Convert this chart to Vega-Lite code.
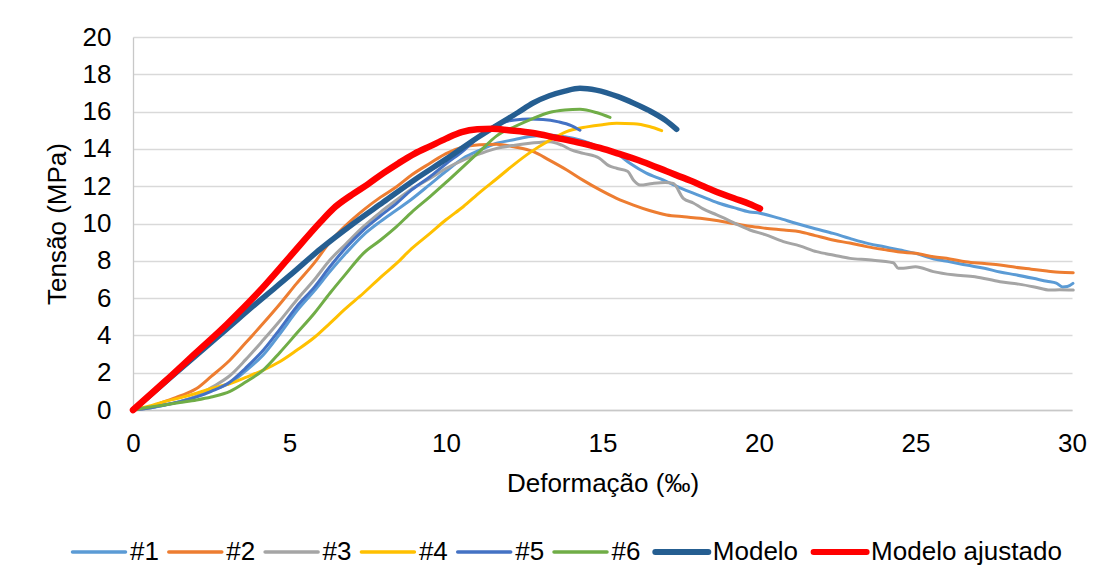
{
  "$schema": "https://vega.github.io/schema/vega-lite/v6.json",
  "width": 939,
  "height": 373,
  "autosize": {"type": "none"},
  "padding": {"left": 133, "top": 37, "right": 39, "bottom": 170},
  "background": "white",
  "config": {
    "view": {"stroke": null},
    "font": "Liberation Sans",
    "axis": {
      "labelFont": "Liberation Sans",
      "titleFont": "Liberation Sans",
      "labelFontSize": 26,
      "titleFontSize": 26,
      "labelColor": "#000000",
      "titleColor": "#000000",
      "titleFontWeight": "normal",
      "ticks": false,
      "tickSize": 0,
      "labelFlush": false,
      "labelOverlap": false,
      "domainColor": "#C8C8C8",
      "domainWidth": 1.3,
      "gridColor": "#D9D9D9",
      "gridWidth": 1.3
    },
    "legend": {
      "labelFont": "Liberation Sans",
      "labelFontSize": 26,
      "labelColor": "#000000",
      "labelLimit": 400
    }
  },
  "datasets": {
    "curvas": [
      {"serie": "#1", "def": 0, "tensao": 0},
      {"serie": "#1", "def": 0.5, "tensao": 0.1},
      {"serie": "#1", "def": 1, "tensao": 0.25},
      {"serie": "#1", "def": 1.5, "tensao": 0.45},
      {"serie": "#1", "def": 2, "tensao": 0.7},
      {"serie": "#1", "def": 2.5, "tensao": 1.05},
      {"serie": "#1", "def": 3.1, "tensao": 1.45},
      {"serie": "#1", "def": 3.6, "tensao": 2.1},
      {"serie": "#1", "def": 4.16, "tensao": 2.95},
      {"serie": "#1", "def": 4.7, "tensao": 4.1},
      {"serie": "#1", "def": 5.23, "tensao": 5.3},
      {"serie": "#1", "def": 5.8, "tensao": 6.4},
      {"serie": "#1", "def": 6.29, "tensao": 7.42},
      {"serie": "#1", "def": 6.8, "tensao": 8.4},
      {"serie": "#1", "def": 7.36, "tensao": 9.38},
      {"serie": "#1", "def": 7.9, "tensao": 10.1},
      {"serie": "#1", "def": 8.42, "tensao": 10.72},
      {"serie": "#1", "def": 8.9, "tensao": 11.3},
      {"serie": "#1", "def": 9.49, "tensao": 12.1},
      {"serie": "#1", "def": 10, "tensao": 12.8},
      {"serie": "#1", "def": 10.55, "tensao": 13.5},
      {"serie": "#1", "def": 11.1, "tensao": 13.95},
      {"serie": "#1", "def": 11.62, "tensao": 14.3},
      {"serie": "#1", "def": 12.2, "tensao": 14.5},
      {"serie": "#1", "def": 12.68, "tensao": 14.66},
      {"serie": "#1", "def": 13.3, "tensao": 14.75},
      {"serie": "#1", "def": 13.8, "tensao": 14.65},
      {"serie": "#1", "def": 14.28, "tensao": 14.48},
      {"serie": "#1", "def": 14.9, "tensao": 14.1},
      {"serie": "#1", "def": 15.45, "tensao": 13.76},
      {"serie": "#1", "def": 15.9, "tensao": 13.2},
      {"serie": "#1", "def": 16.4, "tensao": 12.7},
      {"serie": "#1", "def": 16.95, "tensao": 12.33},
      {"serie": "#1", "def": 17.5, "tensao": 11.9},
      {"serie": "#1", "def": 18.1, "tensao": 11.5},
      {"serie": "#1", "def": 18.7, "tensao": 11.1},
      {"serie": "#1", "def": 19.2, "tensao": 10.85},
      {"serie": "#1", "def": 19.7, "tensao": 10.62},
      {"serie": "#1", "def": 20.03, "tensao": 10.55},
      {"serie": "#1", "def": 20.6, "tensao": 10.3},
      {"serie": "#1", "def": 21.2, "tensao": 10.0},
      {"serie": "#1", "def": 21.8, "tensao": 9.72},
      {"serie": "#1", "def": 22.37, "tensao": 9.47},
      {"serie": "#1", "def": 22.9, "tensao": 9.2},
      {"serie": "#1", "def": 23.5, "tensao": 8.92},
      {"serie": "#1", "def": 24.0, "tensao": 8.75},
      {"serie": "#1", "def": 24.5, "tensao": 8.58},
      {"serie": "#1", "def": 25.0, "tensao": 8.4},
      {"serie": "#1", "def": 25.6, "tensao": 8.1},
      {"serie": "#1", "def": 26.1, "tensao": 7.95},
      {"serie": "#1", "def": 26.63, "tensao": 7.77},
      {"serie": "#1", "def": 27.2, "tensao": 7.6},
      {"serie": "#1", "def": 27.7, "tensao": 7.4},
      {"serie": "#1", "def": 28.2, "tensao": 7.25},
      {"serie": "#1", "def": 28.76, "tensao": 7.06},
      {"serie": "#1", "def": 29.2, "tensao": 6.9},
      {"serie": "#1", "def": 29.5, "tensao": 6.8},
      {"serie": "#1", "def": 29.7, "tensao": 6.6},
      {"serie": "#1", "def": 29.85, "tensao": 6.62},
      {"serie": "#1", "def": 30.03, "tensao": 6.79},

      {"serie": "#2", "def": 0, "tensao": 0},
      {"serie": "#2", "def": 0.5, "tensao": 0.15},
      {"serie": "#2", "def": 1, "tensao": 0.45},
      {"serie": "#2", "def": 1.5, "tensao": 0.75},
      {"serie": "#2", "def": 2.03, "tensao": 1.15},
      {"serie": "#2", "def": 2.5, "tensao": 1.8},
      {"serie": "#2", "def": 3.1, "tensao": 2.68},
      {"serie": "#2", "def": 3.6, "tensao": 3.6},
      {"serie": "#2", "def": 4.16, "tensao": 4.65},
      {"serie": "#2", "def": 4.7, "tensao": 5.7},
      {"serie": "#2", "def": 5.23, "tensao": 6.79},
      {"serie": "#2", "def": 5.8, "tensao": 7.9},
      {"serie": "#2", "def": 6.29, "tensao": 9.0},
      {"serie": "#2", "def": 6.8, "tensao": 9.9},
      {"serie": "#2", "def": 7.36, "tensao": 10.72},
      {"serie": "#2", "def": 7.9, "tensao": 11.4},
      {"serie": "#2", "def": 8.42, "tensao": 11.97},
      {"serie": "#2", "def": 8.9, "tensao": 12.6},
      {"serie": "#2", "def": 9.49, "tensao": 13.23},
      {"serie": "#2", "def": 10, "tensao": 13.75},
      {"serie": "#2", "def": 10.55, "tensao": 14.1},
      {"serie": "#2", "def": 11.1, "tensao": 14.22},
      {"serie": "#2", "def": 11.6, "tensao": 14.25},
      {"serie": "#2", "def": 12.2, "tensao": 14.1},
      {"serie": "#2", "def": 12.79, "tensao": 13.85},
      {"serie": "#2", "def": 13.3, "tensao": 13.4},
      {"serie": "#2", "def": 13.86, "tensao": 12.87},
      {"serie": "#2", "def": 14.4, "tensao": 12.3},
      {"serie": "#2", "def": 14.92, "tensao": 11.8},
      {"serie": "#2", "def": 15.45, "tensao": 11.35},
      {"serie": "#2", "def": 15.99, "tensao": 10.99},
      {"serie": "#2", "def": 16.5, "tensao": 10.7},
      {"serie": "#2", "def": 17.05, "tensao": 10.46},
      {"serie": "#2", "def": 17.6, "tensao": 10.36},
      {"serie": "#2", "def": 18.12, "tensao": 10.28},
      {"serie": "#2", "def": 18.7, "tensao": 10.15},
      {"serie": "#2", "def": 19.19, "tensao": 10.0},
      {"serie": "#2", "def": 19.7, "tensao": 9.85},
      {"serie": "#2", "def": 20.2, "tensao": 9.75},
      {"serie": "#2", "def": 20.8, "tensao": 9.65},
      {"serie": "#2", "def": 21.31, "tensao": 9.56},
      {"serie": "#2", "def": 21.8, "tensao": 9.35},
      {"serie": "#2", "def": 22.4, "tensao": 9.1},
      {"serie": "#2", "def": 22.9, "tensao": 8.95},
      {"serie": "#2", "def": 23.44, "tensao": 8.76},
      {"serie": "#2", "def": 24.0, "tensao": 8.6},
      {"serie": "#2", "def": 24.5, "tensao": 8.47},
      {"serie": "#2", "def": 25.0, "tensao": 8.4},
      {"serie": "#2", "def": 25.57, "tensao": 8.22},
      {"serie": "#2", "def": 26.1, "tensao": 8.1},
      {"serie": "#2", "def": 26.6, "tensao": 7.95},
      {"serie": "#2", "def": 27.2, "tensao": 7.85},
      {"serie": "#2", "def": 27.7, "tensao": 7.77},
      {"serie": "#2", "def": 28.2, "tensao": 7.65},
      {"serie": "#2", "def": 28.7, "tensao": 7.55},
      {"serie": "#2", "def": 29.2, "tensao": 7.45},
      {"serie": "#2", "def": 29.6, "tensao": 7.38},
      {"serie": "#2", "def": 30.04, "tensao": 7.36},

      {"serie": "#3", "def": 0, "tensao": 0},
      {"serie": "#3", "def": 0.5, "tensao": 0.1},
      {"serie": "#3", "def": 1, "tensao": 0.27},
      {"serie": "#3", "def": 1.5, "tensao": 0.45},
      {"serie": "#3", "def": 2.03, "tensao": 0.75},
      {"serie": "#3", "def": 2.5, "tensao": 1.2},
      {"serie": "#3", "def": 3.1, "tensao": 1.85},
      {"serie": "#3", "def": 3.6, "tensao": 2.7},
      {"serie": "#3", "def": 4.16, "tensao": 3.75},
      {"serie": "#3", "def": 4.7, "tensao": 4.8},
      {"serie": "#3", "def": 5.23, "tensao": 5.9},
      {"serie": "#3", "def": 5.8, "tensao": 7.0},
      {"serie": "#3", "def": 6.29, "tensao": 8.04},
      {"serie": "#3", "def": 6.8, "tensao": 8.9},
      {"serie": "#3", "def": 7.36, "tensao": 9.83},
      {"serie": "#3", "def": 7.9, "tensao": 10.6},
      {"serie": "#3", "def": 8.42, "tensao": 11.26},
      {"serie": "#3", "def": 8.9, "tensao": 11.85},
      {"serie": "#3", "def": 9.49, "tensao": 12.42},
      {"serie": "#3", "def": 10, "tensao": 12.95},
      {"serie": "#3", "def": 10.55, "tensao": 13.4},
      {"serie": "#3", "def": 11.1, "tensao": 13.75},
      {"serie": "#3", "def": 11.62, "tensao": 14.03},
      {"serie": "#3", "def": 12.2, "tensao": 14.2},
      {"serie": "#3", "def": 12.68, "tensao": 14.3},
      {"serie": "#3", "def": 13.32, "tensao": 14.39},
      {"serie": "#3", "def": 13.7, "tensao": 14.2},
      {"serie": "#3", "def": 14.0, "tensao": 13.95},
      {"serie": "#3", "def": 14.39, "tensao": 13.76},
      {"serie": "#3", "def": 14.9, "tensao": 13.5},
      {"serie": "#3", "def": 15.2, "tensao": 13.1},
      {"serie": "#3", "def": 15.45, "tensao": 12.96},
      {"serie": "#3", "def": 15.8, "tensao": 12.8},
      {"serie": "#3", "def": 16.0, "tensao": 12.3},
      {"serie": "#3", "def": 16.2, "tensao": 12.06},
      {"serie": "#3", "def": 16.6, "tensao": 12.15},
      {"serie": "#3", "def": 17.0, "tensao": 12.2},
      {"serie": "#3", "def": 17.26, "tensao": 12.15},
      {"serie": "#3", "def": 17.58, "tensao": 11.35},
      {"serie": "#3", "def": 17.9, "tensao": 11.1},
      {"serie": "#3", "def": 18.2, "tensao": 10.8},
      {"serie": "#3", "def": 18.65, "tensao": 10.46},
      {"serie": "#3", "def": 19.0, "tensao": 10.2},
      {"serie": "#3", "def": 19.3, "tensao": 9.95},
      {"serie": "#3", "def": 19.71, "tensao": 9.65},
      {"serie": "#3", "def": 20.2, "tensao": 9.4},
      {"serie": "#3", "def": 20.78, "tensao": 9.03},
      {"serie": "#3", "def": 21.3, "tensao": 8.8},
      {"serie": "#3", "def": 21.84, "tensao": 8.49},
      {"serie": "#3", "def": 22.4, "tensao": 8.3},
      {"serie": "#3", "def": 22.91, "tensao": 8.13},
      {"serie": "#3", "def": 23.5, "tensao": 8.05},
      {"serie": "#3", "def": 24.29, "tensao": 7.9},
      {"serie": "#3", "def": 24.45, "tensao": 7.6},
      {"serie": "#3", "def": 24.61, "tensao": 7.6},
      {"serie": "#3", "def": 25.0, "tensao": 7.68},
      {"serie": "#3", "def": 25.57, "tensao": 7.42},
      {"serie": "#3", "def": 26.2, "tensao": 7.25},
      {"serie": "#3", "def": 26.9, "tensao": 7.15},
      {"serie": "#3", "def": 27.7, "tensao": 6.88},
      {"serie": "#3", "def": 28.3, "tensao": 6.75},
      {"serie": "#3", "def": 28.8, "tensao": 6.6},
      {"serie": "#3", "def": 29.3, "tensao": 6.43},
      {"serie": "#3", "def": 29.6, "tensao": 6.45},
      {"serie": "#3", "def": 30.04, "tensao": 6.43},

      {"serie": "#4", "def": 0, "tensao": 0},
      {"serie": "#4", "def": 0.5, "tensao": 0.2},
      {"serie": "#4", "def": 1, "tensao": 0.45},
      {"serie": "#4", "def": 1.5, "tensao": 0.65},
      {"serie": "#4", "def": 2.03, "tensao": 0.9},
      {"serie": "#4", "def": 2.5, "tensao": 1.15},
      {"serie": "#4", "def": 3.1, "tensao": 1.42},
      {"serie": "#4", "def": 3.6, "tensao": 1.75},
      {"serie": "#4", "def": 4.16, "tensao": 2.14},
      {"serie": "#4", "def": 4.7, "tensao": 2.6},
      {"serie": "#4", "def": 5.23, "tensao": 3.2},
      {"serie": "#4", "def": 5.8, "tensao": 3.9},
      {"serie": "#4", "def": 6.29, "tensao": 4.65},
      {"serie": "#4", "def": 6.8, "tensao": 5.45},
      {"serie": "#4", "def": 7.36, "tensao": 6.26},
      {"serie": "#4", "def": 7.9, "tensao": 7.1},
      {"serie": "#4", "def": 8.42, "tensao": 7.86},
      {"serie": "#4", "def": 8.9, "tensao": 8.65},
      {"serie": "#4", "def": 9.49, "tensao": 9.47},
      {"serie": "#4", "def": 10, "tensao": 10.2},
      {"serie": "#4", "def": 10.55, "tensao": 10.9},
      {"serie": "#4", "def": 11.1, "tensao": 11.7},
      {"serie": "#4", "def": 11.62, "tensao": 12.4},
      {"serie": "#4", "def": 12.2, "tensao": 13.2},
      {"serie": "#4", "def": 12.68, "tensao": 13.8},
      {"serie": "#4", "def": 13.3, "tensao": 14.45},
      {"serie": "#4", "def": 13.85, "tensao": 14.93},
      {"serie": "#4", "def": 14.5, "tensao": 15.18},
      {"serie": "#4", "def": 15.0, "tensao": 15.3},
      {"serie": "#4", "def": 15.45, "tensao": 15.37},
      {"serie": "#4", "def": 16.0, "tensao": 15.35},
      {"serie": "#4", "def": 16.5, "tensao": 15.2},
      {"serie": "#4", "def": 16.89, "tensao": 14.98},

      {"serie": "#5", "def": 0, "tensao": 0},
      {"serie": "#5", "def": 0.5, "tensao": 0.1},
      {"serie": "#5", "def": 1, "tensao": 0.27},
      {"serie": "#5", "def": 1.5, "tensao": 0.45},
      {"serie": "#5", "def": 2.03, "tensao": 0.7},
      {"serie": "#5", "def": 2.5, "tensao": 1.0},
      {"serie": "#5", "def": 3.1, "tensao": 1.5},
      {"serie": "#5", "def": 3.6, "tensao": 2.25},
      {"serie": "#5", "def": 4.16, "tensao": 3.2},
      {"serie": "#5", "def": 4.7, "tensao": 4.35},
      {"serie": "#5", "def": 5.23, "tensao": 5.54},
      {"serie": "#5", "def": 5.8, "tensao": 6.6},
      {"serie": "#5", "def": 6.29, "tensao": 7.68},
      {"serie": "#5", "def": 6.8, "tensao": 8.7},
      {"serie": "#5", "def": 7.36, "tensao": 9.65},
      {"serie": "#5", "def": 7.9, "tensao": 10.4},
      {"serie": "#5", "def": 8.42, "tensao": 11.08},
      {"serie": "#5", "def": 8.9, "tensao": 11.8},
      {"serie": "#5", "def": 9.49, "tensao": 12.51},
      {"serie": "#5", "def": 10, "tensao": 13.2},
      {"serie": "#5", "def": 10.55, "tensao": 13.9},
      {"serie": "#5", "def": 11.1, "tensao": 14.7},
      {"serie": "#5", "def": 11.62, "tensao": 15.3},
      {"serie": "#5", "def": 12.2, "tensao": 15.55},
      {"serie": "#5", "def": 12.68, "tensao": 15.6},
      {"serie": "#5", "def": 13.1, "tensao": 15.58},
      {"serie": "#5", "def": 13.6, "tensao": 15.45},
      {"serie": "#5", "def": 14.0, "tensao": 15.25},
      {"serie": "#5", "def": 14.28, "tensao": 15.0},

      {"serie": "#6", "def": 0, "tensao": 0},
      {"serie": "#6", "def": 0.5, "tensao": 0.15},
      {"serie": "#6", "def": 1, "tensao": 0.27},
      {"serie": "#6", "def": 1.5, "tensao": 0.4},
      {"serie": "#6", "def": 2.03, "tensao": 0.54},
      {"serie": "#6", "def": 2.5, "tensao": 0.7},
      {"serie": "#6", "def": 3.1, "tensao": 1.0},
      {"serie": "#6", "def": 3.6, "tensao": 1.5},
      {"serie": "#6", "def": 4.16, "tensao": 2.14},
      {"serie": "#6", "def": 4.7, "tensao": 3.1},
      {"serie": "#6", "def": 5.23, "tensao": 4.11},
      {"serie": "#6", "def": 5.8, "tensao": 5.2},
      {"serie": "#6", "def": 6.29, "tensao": 6.26},
      {"serie": "#6", "def": 6.8, "tensao": 7.3},
      {"serie": "#6", "def": 7.36, "tensao": 8.4},
      {"serie": "#6", "def": 7.9, "tensao": 9.1},
      {"serie": "#6", "def": 8.42, "tensao": 9.83},
      {"serie": "#6", "def": 8.9, "tensao": 10.6},
      {"serie": "#6", "def": 9.49, "tensao": 11.44},
      {"serie": "#6", "def": 10, "tensao": 12.2},
      {"serie": "#6", "def": 10.55, "tensao": 13.05},
      {"serie": "#6", "def": 11.1, "tensao": 13.9},
      {"serie": "#6", "def": 11.62, "tensao": 14.7},
      {"serie": "#6", "def": 12.2, "tensao": 15.2},
      {"serie": "#6", "def": 12.79, "tensao": 15.64},
      {"serie": "#6", "def": 13.3, "tensao": 15.95},
      {"serie": "#6", "def": 13.8, "tensao": 16.08},
      {"serie": "#6", "def": 14.28, "tensao": 16.12},
      {"serie": "#6", "def": 14.8, "tensao": 15.95},
      {"serie": "#6", "def": 15.24, "tensao": 15.69},

      {"serie": "Modelo", "def": 0, "tensao": 0},
      {"serie": "Modelo", "def": 1, "tensao": 1.45},
      {"serie": "Modelo", "def": 2, "tensao": 2.9},
      {"serie": "Modelo", "def": 3, "tensao": 4.35},
      {"serie": "Modelo", "def": 4, "tensao": 5.8},
      {"serie": "Modelo", "def": 5, "tensao": 7.2},
      {"serie": "Modelo", "def": 6, "tensao": 8.65},
      {"serie": "Modelo", "def": 7, "tensao": 9.95},
      {"serie": "Modelo", "def": 8, "tensao": 11.15},
      {"serie": "Modelo", "def": 9, "tensao": 12.35},
      {"serie": "Modelo", "def": 10, "tensao": 13.45},
      {"serie": "Modelo", "def": 11, "tensao": 14.6},
      {"serie": "Modelo", "def": 11.73, "tensao": 15.37},
      {"serie": "Modelo", "def": 12.3, "tensao": 15.95},
      {"serie": "Modelo", "def": 12.78, "tensao": 16.46},
      {"serie": "Modelo", "def": 13.3, "tensao": 16.85},
      {"serie": "Modelo", "def": 13.8, "tensao": 17.1},
      {"serie": "Modelo", "def": 14.28, "tensao": 17.25},
      {"serie": "Modelo", "def": 14.8, "tensao": 17.15},
      {"serie": "Modelo", "def": 15.5, "tensao": 16.8},
      {"serie": "Modelo", "def": 16, "tensao": 16.45},
      {"serie": "Modelo", "def": 16.5, "tensao": 16.05},
      {"serie": "Modelo", "def": 17, "tensao": 15.55},
      {"serie": "Modelo", "def": 17.37, "tensao": 15.05},

      {"serie": "Modelo ajustado", "def": 0, "tensao": 0},
      {"serie": "Modelo ajustado", "def": 1, "tensao": 1.5},
      {"serie": "Modelo ajustado", "def": 2, "tensao": 3.05},
      {"serie": "Modelo ajustado", "def": 3, "tensao": 4.6},
      {"serie": "Modelo ajustado", "def": 4, "tensao": 6.3},
      {"serie": "Modelo ajustado", "def": 5, "tensao": 8.2},
      {"serie": "Modelo ajustado", "def": 6, "tensao": 10.1},
      {"serie": "Modelo ajustado", "def": 6.4, "tensao": 10.8},
      {"serie": "Modelo ajustado", "def": 7, "tensao": 11.55},
      {"serie": "Modelo ajustado", "def": 7.5, "tensao": 12.1},
      {"serie": "Modelo ajustado", "def": 8, "tensao": 12.7},
      {"serie": "Modelo ajustado", "def": 8.5, "tensao": 13.25},
      {"serie": "Modelo ajustado", "def": 9, "tensao": 13.75},
      {"serie": "Modelo ajustado", "def": 9.5, "tensao": 14.15},
      {"serie": "Modelo ajustado", "def": 10, "tensao": 14.55},
      {"serie": "Modelo ajustado", "def": 10.5, "tensao": 14.9},
      {"serie": "Modelo ajustado", "def": 11, "tensao": 15.05},
      {"serie": "Modelo ajustado", "def": 11.5, "tensao": 15.08},
      {"serie": "Modelo ajustado", "def": 12, "tensao": 15.0},
      {"serie": "Modelo ajustado", "def": 12.78, "tensao": 14.85},
      {"serie": "Modelo ajustado", "def": 13.5, "tensao": 14.6},
      {"serie": "Modelo ajustado", "def": 14.2, "tensao": 14.35},
      {"serie": "Modelo ajustado", "def": 14.92, "tensao": 14.05},
      {"serie": "Modelo ajustado", "def": 15.5, "tensao": 13.75},
      {"serie": "Modelo ajustado", "def": 16.3, "tensao": 13.3},
      {"serie": "Modelo ajustado", "def": 17.05, "tensao": 12.8},
      {"serie": "Modelo ajustado", "def": 17.8, "tensao": 12.3},
      {"serie": "Modelo ajustado", "def": 18.5, "tensao": 11.8},
      {"serie": "Modelo ajustado", "def": 19.2, "tensao": 11.35},
      {"serie": "Modelo ajustado", "def": 19.7, "tensao": 11.05},
      {"serie": "Modelo ajustado", "def": 20.03, "tensao": 10.8}
    ]
  },
  "data": {"name": "curvas"},
  "encoding": {
    "x": {
      "field": "def",
      "type": "quantitative",
      "scale": {"domain": [0, 30], "nice": false, "zero": true},
      "axis": {
        "values": [0, 5, 10, 15, 20, 25, 30],
        "title": "Deformação (‰)",
        "grid": false,
        "labelPadding": 20,
        "titlePadding": 14
      }
    },
    "y": {
      "field": "tensao",
      "type": "quantitative",
      "scale": {"domain": [0, 20], "nice": false},
      "axis": {
        "values": [0, 2, 4, 6, 8, 10, 12, 14, 16, 18, 20],
        "title": "Tensão (MPa)",
        "grid": true,
        "labelPadding": 22,
        "titlePadding": 12
      }
    },
    "color": {
      "field": "serie",
      "type": "nominal",
      "scale": {
        "domain": ["#1", "#2", "#3", "#4", "#5", "#6", "Modelo", "Modelo ajustado"],
        "range": ["#5B9BD5", "#ED7D31", "#A5A5A5", "#FFC000", "#4472C4", "#70AD47", "#255E91", "#FF0000"]
      },
      "legend": {
        "title": null,
        "orient": "none",
        "direction": "horizontal",
        "columns": 8,
        "legendX": -47,
        "legendY": 502,
        "symbolType": "stroke",
        "symbolSize": 2809,
        "symbolStrokeWidth": 3.5,
        "labelOffset": 18,
        "columnPadding": 2.3,
        "padding": 0,
        "encode": {
          "symbols": {
            "update": {
              "strokeWidth": {"signal": "datum.value === 'Modelo' || datum.value === 'Modelo ajustado' ? 6 : 3.5"},
              "strokeCap": {"value": "round"}
            }
          }
        }
      }
    }
  },
  "layer": [
    {
      "transform": [{"filter": "datum.serie !== 'Modelo' && datum.serie !== 'Modelo ajustado'"}],
      "mark": {"type": "line", "interpolate": "monotone", "strokeWidth": 3, "strokeJoin": "round", "strokeCap": "round"}
    },
    {
      "transform": [{"filter": "datum.serie === 'Modelo'"}],
      "mark": {"type": "line", "interpolate": "monotone", "strokeWidth": 5.5, "strokeJoin": "round", "strokeCap": "round"}
    },
    {
      "transform": [{"filter": "datum.serie === 'Modelo ajustado'"}],
      "mark": {"type": "line", "interpolate": "monotone", "strokeWidth": 6.5, "strokeJoin": "round", "strokeCap": "round"}
    }
  ]
}
